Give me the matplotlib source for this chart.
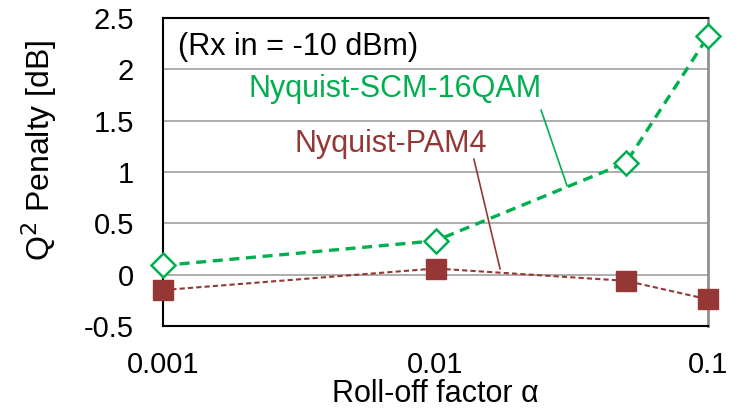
import matplotlib
matplotlib.use("Agg")
from matplotlib import pyplot as plt

# data
alpha = [0.001, 0.01, 0.05, 0.1]
scm16qam = [0.09, 0.33, 1.09, 2.32]
pam4 = [-0.15, 0.06, -0.06, -0.24]

green = '#00B050'
red = '#953735'

plt.rcParams['font.family'] = ['Liberation Sans', 'DejaVu Sans']

fig = plt.figure(figsize=(7.44, 4.15), dpi=100)
ax = fig.add_axes([163/744, 1-326/415, (708-163)/744, (326-18)/415])

ax.plot(alpha, scm16qam, 'D', ls=(0, (3, 2)), color=green, lw=2.4, ms=12,
        mfc='white', mec=green, mew=1.8, clip_on=False, zorder=3)
ax.plot(alpha, pam4, 's', ls=(0, (2.5, 1.5)), color=red, lw=1.5, ms=14,
        mfc=red, mec=red, clip_on=False, zorder=3)

ax.set_xscale('log')
ax.set_xlim(0.001, 0.1)
ax.set_ylim(-0.5, 2.5)
ax.set_yticks([-0.5, 0, 0.5, 1, 1.5, 2, 2.5])
ax.set_yticklabels(['-0.5', '0', '0.5', '1', '1.5', '2', '2.5'])
ax.set_xticks([0.001, 0.01, 0.1])
ax.set_xticklabels(['0.001', '0.01', '0.1'])
ax.minorticks_off()
ax.tick_params(length=0, labelsize=21)
ax.tick_params(axis='y', pad=21)
ax.tick_params(axis='x', pad=18)
ax.grid(axis='y', color='#a0a0a0', lw=1.2)
ax.set_axisbelow(True)
for s in ['left', 'top', 'bottom']:
    ax.spines[s].set_color('black')
    ax.spines[s].set_linewidth(1.5)
ax.spines['right'].set_color('#909090')
ax.spines['right'].set_linewidth(2)

ax.set_ylabel('Q$^2$ Penalty [dB]', fontsize=23)
ax.yaxis.set_label_coords(-0.19, 0.57)
ax.set_xlabel('Roll-off factor α', fontsize=22, labelpad=0)

ax.text(0.0275, 0.906, '(Rx in = -10 dBm)', transform=ax.transAxes,
        fontsize=22, va='center', ha='left')

# callout labels with leader lines
ax.text(0.0071, 1.81, 'Nyquist-SCM-16QAM', color=green, fontsize=22,
        ha='center', va='center')
ax.annotate('', xy=(0.0304, 0.864), xytext=(0.0244, 1.604),
            arrowprops=dict(arrowstyle='-', color=green, lw=1.2,
                            shrinkA=0, shrinkB=0))
ax.text(0.00687, 1.273, 'Nyquist-PAM4', color=red, fontsize=22,
        ha='center', va='center')
ax.annotate('', xy=(0.01726, 0.055), xytext=(0.01383, 1.127),
            arrowprops=dict(arrowstyle='-', color=red, lw=1.2,
                            shrinkA=0, shrinkB=0))

fig.savefig('out.png', dpi=100)
